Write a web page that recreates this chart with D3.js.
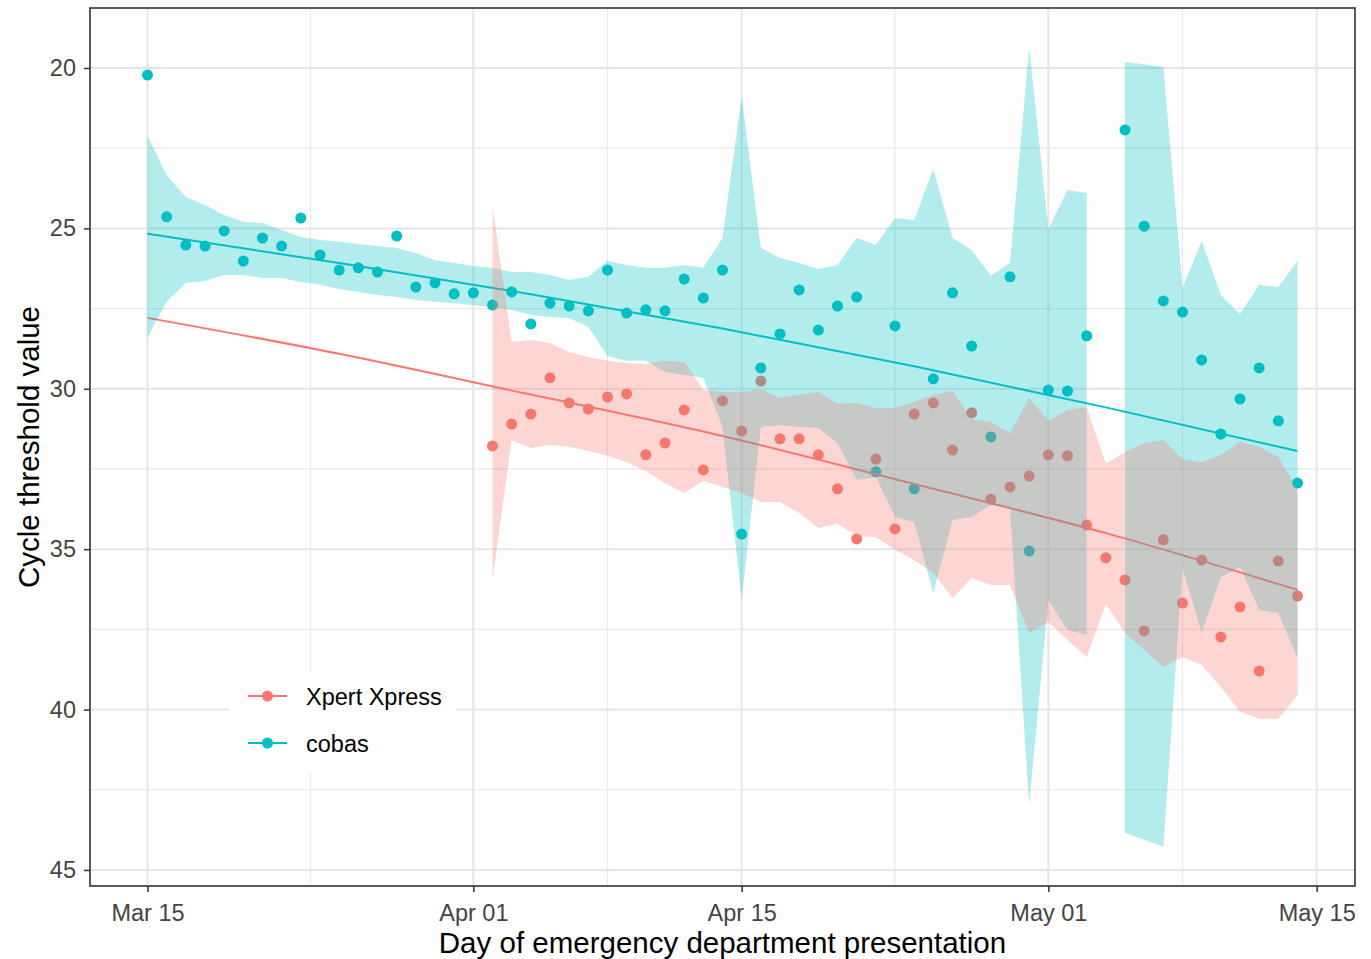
<!DOCTYPE html>
<html>
<head>
<meta charset="utf-8">
<script src="https://cdnjs.cloudflare.com/ajax/libs/d3/7.8.5/d3.min.js"></script>
<style>
  body { margin: 0; background: #fff; }
  svg { display: block; font-family: "Liberation Sans", Arial, Helvetica, sans-serif; }
</style>
</head>
<body>
<svg id="chart" width="1371" height="959"></svg>
<script>

// day 0 = first day of the series, arrays are one value per day
var firstDay = "2020-03-15";
var xpertFirstIndex = 18; // Xpert data starts Apr 02

var cobasCt = [20.22, 24.64, 25.52, 25.55, 25.08, 26.02, 25.30, 25.55, 24.68, 25.83,
               26.30, 26.23, 26.36, 25.24, 26.83, 26.70, 27.04, 27.01, 27.39, 26.98,
               27.98, 27.33, 27.42, 27.57, 26.30, 27.64, 27.54, 27.57, 26.58, 27.17,
               26.30, 34.53, 29.35, 28.29, 26.92, 28.17, 27.42, 27.14, 32.59, 28.04,
               33.12, 29.69, 27.01, 28.67, 31.50, 26.51, 35.06, 30.04, 30.07, 28.35,
               null, 21.93, 24.93, 27.26, 27.61, 29.10, 31.41, 30.32, 29.35, 31.00,
               32.94];
var cobasLow = [22.12, 23.34, 24.02, 24.27, 24.58, 24.80, 24.83, 25.05, 25.27, 25.36,
                25.42, 25.49, 25.55, 25.61, 25.77, 25.99, 26.08, 26.17, 26.23, 26.36,
                26.36, 26.45, 26.61, 26.51, 26.02, 26.14, 26.23, 26.23, 26.14, 26.23,
                25.30, 20.87, 25.61, 25.92, 26.08, 26.27, 26.14, 25.30, 25.52, 24.68,
                24.74, 23.15, 25.30, 25.67, 26.48, 26.08, 19.35, 25.02, 23.80, 23.90,
                null, 19.81, 19.88, 19.97, 26.86, 25.39, 27.08, 27.67, 26.76, 26.83,
                26.02];
var cobasHigh = [28.39, 27.29, 26.70, 26.64, 26.45, 26.45, 26.55, 26.55, 26.67, 26.76,
                 26.89, 26.98, 27.08, 27.14, 27.23, 27.29, 27.33, 27.39, 27.45, 27.54,
                 27.70, 27.76, 27.79, 28.07, 28.98, 29.13, 29.13, 29.48, 29.57, 29.66,
                 31.19, 36.58, 31.19, 31.13, 31.19, 31.22, 31.69, 32.84, 32.75, 34.00,
                 34.15, 36.37, 34.09, 34.00, 33.62, 33.72, 42.97, 36.58, 37.52, 37.67,
                 null, 43.85, 44.06, 44.28, 35.59, 37.61, 35.87, 35.55, 36.90, 36.99,
                 38.39];

var xpertCt = [31.78, 31.10, 30.79, 29.66, 30.44, 30.63, 30.26, 30.16, 32.06, 31.69,
               30.66, 32.53, 30.38, 31.32, 29.76, 31.56, 31.56, 32.06, 33.12, 34.68,
               32.19, 34.37, 30.79, 30.44, 31.91, 30.75, 33.44, 33.06, 32.72, 32.06,
               32.09, 34.25, 35.27, 35.96, 37.55, 34.71, 36.68, 35.34, 37.74, 36.80,
               38.80, 35.37, 36.46];
var xpertLow = [24.30, 28.54, 28.48, 28.57, 28.85, 29.01, 29.13, 29.20, 29.23, 29.13,
                29.16, 30.04, 30.10, 30.10, 30.01, 30.29, 30.19, 30.10, 30.47, 30.44,
                30.60, 30.60, 30.41, 30.19, 30.07, 30.94, 31.04, 31.38, 30.29, 31.00,
                30.66, 30.57, 32.34, 31.97, 31.69, 31.60, 32.19, 32.28, 32.06, 31.66,
                31.81, 32.13, 33.15];
var xpertHigh = [35.96, 31.60, 31.85, 31.75, 31.81, 31.94, 32.09, 32.28, 32.56, 32.94,
                 33.25, 32.87, 33.06, 33.25, 33.53, 33.53, 33.87, 34.34, 34.21, 34.59,
                 34.62, 35.02, 35.34, 35.74, 36.52, 35.90, 36.12, 36.12, 37.61, 37.27,
                 37.83, 38.36, 36.71, 37.61, 38.14, 38.67, 38.36, 38.61, 39.30, 40.07,
                 40.29, 40.29, 39.55];

// fitted trend, read at every 10th day
var fitDays = [0, 10, 20, 30, 40, 50, 60];
var cobasFit = [25.17, 26.08, 27.05, 28.12, 29.30, 30.58, 31.94];
var xpertFit = [27.79, 28.91, 30.18, 31.47, 32.97, 34.50, 36.27];

var xTickDates = ["2020-03-15", "2020-04-01", "2020-04-15", "2020-05-01", "2020-05-15"];
var xTickLabels = ["Mar 15", "Apr 01", "Apr 15", "May 01", "May 15"];
var yTicks = [20, 25, 30, 35, 40, 45];
var legendNames = ["Xpert Xpress", "cobas"];

var red = "#F8766D";
var teal = "#00BFC4";

var panelL = 90, panelR = 1355, panelT = 8, panelB = 886;
var parse = d3.utcParse("%Y-%m-%d");
var day0 = parse(firstDay);

function dayDate(i){ return d3.utcDay.offset(day0, i); }

var x = d3.scaleUtc()
  .domain([dayDate(-3), dayDate(63)])
  .range([panelL, panelR]);

var y = d3.scaleLinear()
  .domain([18.13, 45.5])
  .range([panelT, panelB]);

var svg = d3.select("#chart");

function toRows(ct, lo, hi, offset){
  var rows = [];
  for(var i = 0; i < ct.length; i++){
    rows.push({ date: dayDate(i + offset), ct: ct[i], lo: lo[i], hi: hi[i] });
  }
  return rows;
}

function fitRows(vals){
  return fitDays.map(function(d, i){ return { date: dayDate(d), v: vals[i] }; });
}

var cobasRows = toRows(cobasCt, cobasLow, cobasHigh, 0);
var xpertRows = toRows(xpertCt, xpertLow, xpertHigh, xpertFirstIndex);

// grid
var majorX = xTickDates.map(parse);
var minorX = [];
for(var i = 1; i < majorX.length; i++){
  minorX.push(new Date((majorX[i-1].getTime() + majorX[i].getTime()) / 2));
}
var minorY = [];
for(var j = 1; j < yTicks.length; j++){
  minorY.push((yTicks[j-1] + yTicks[j]) / 2);
}

var grid = svg.append("g").attr("class", "grid");
grid.selectAll(".minx").data(minorX).enter().append("line")
  .attr("x1", function(d){ return x(d); }).attr("x2", function(d){ return x(d); })
  .attr("y1", panelT).attr("y2", panelB)
  .attr("stroke", "#e9e9e9").attr("stroke-width", 1.2);
grid.selectAll(".miny").data(minorY).enter().append("line")
  .attr("y1", function(d){ return y(d); }).attr("y2", function(d){ return y(d); })
  .attr("x1", panelL).attr("x2", panelR)
  .attr("stroke", "#e9e9e9").attr("stroke-width", 1.2);
grid.selectAll(".majx").data(majorX).enter().append("line")
  .attr("x1", function(d){ return x(d); }).attr("x2", function(d){ return x(d); })
  .attr("y1", panelT).attr("y2", panelB)
  .attr("stroke", "#e5e5e5").attr("stroke-width", 2);
grid.selectAll(".majy").data(yTicks).enter().append("line")
  .attr("y1", function(d){ return y(d); }).attr("y2", function(d){ return y(d); })
  .attr("x1", panelL).attr("x2", panelR)
  .attr("stroke", "#e5e5e5").attr("stroke-width", 2);

// points and fitted lines (ribbons go on top, like the original)
function drawPoints(rows, color){
  svg.append("g").selectAll("circle")
    .data(rows.filter(function(r){ return r.ct != null; }))
    .enter().append("circle")
    .attr("cx", function(r){ return x(r.date); })
    .attr("cy", function(r){ return y(r.ct); })
    .attr("r", 5.5)
    .attr("fill", color);
}

var fitLine = d3.line()
  .x(function(d){ return x(d.date); })
  .y(function(d){ return y(d.v); })
  .curve(d3.curveNatural);

function drawFit(vals, color){
  svg.append("path")
    .datum(fitRows(vals))
    .attr("d", fitLine)
    .attr("fill", "none")
    .attr("stroke", color)
    .attr("stroke-width", 2);
}

drawPoints(cobasRows, teal);
drawPoints(xpertRows, red);
drawFit(cobasFit, teal);
drawFit(xpertFit, red);

var band = d3.area()
  .defined(function(r){ return r.lo != null && r.hi != null; })
  .x(function(r){ return x(r.date); })
  .y0(function(r){ return y(r.hi); })
  .y1(function(r){ return y(r.lo); });

svg.append("path").datum(cobasRows).attr("d", band)
  .attr("fill", teal).attr("fill-opacity", 0.3);
svg.append("path").datum(xpertRows).attr("d", band)
  .attr("fill", red).attr("fill-opacity", 0.3);

// panel border
svg.append("rect")
  .attr("x", panelL).attr("y", panelT)
  .attr("width", panelR - panelL).attr("height", panelB - panelT)
  .attr("fill", "none").attr("stroke", "#333").attr("stroke-width", 1.6);

// axes
var yAxis = d3.axisLeft(y).tickValues(yTicks).tickSize(6).tickSizeOuter(0).tickPadding(8);
var gy = svg.append("g").attr("transform", "translate(" + panelL + ",0)").call(yAxis);

var xAxis = d3.axisBottom(x).tickValues(majorX)
  .tickFormat(function(d, i){ return xTickLabels[i]; })
  .tickSize(6).tickSizeOuter(0).tickPadding(12);
var gx = svg.append("g").attr("transform", "translate(0," + panelB + ")").call(xAxis);

[gx, gy].forEach(function(g){
  g.select(".domain").remove();
  g.selectAll(".tick line").attr("stroke", "#333").attr("stroke-width", 1.5);
  g.selectAll(".tick text")
    .attr("fill", "#444")
    .style("font-size", "23.5px")
    .style("font-family", "'Liberation Sans', Arial, sans-serif");
});

svg.append("text")
  .attr("x", (panelL + panelR) / 2).attr("y", 953)
  .attr("text-anchor", "middle")
  .style("font-size", "29.5px")
  .text("Day of emergency department presentation");

svg.append("text")
  .attr("transform", "translate(39," + ((panelT + panelB) / 2) + ") rotate(-90)")
  .attr("text-anchor", "middle")
  .style("font-size", "29.5px")
  .text("Cycle threshold value");

// legend
var legend = svg.append("g").attr("class", "legend");
legend.append("rect")
  .attr("x", 229).attr("y", 670).attr("width", 227).attr("height", 102)
  .attr("fill", "#fff");

var legendColors = [red, teal];
legendNames.forEach(function(name, i){
  var ly = 696 + i * 47;
  legend.append("line")
    .attr("x1", 248).attr("x2", 287).attr("y1", ly).attr("y2", ly)
    .attr("stroke", legendColors[i]).attr("stroke-width", 2);
  legend.append("circle")
    .attr("cx", 267.5).attr("cy", ly).attr("r", 5.5)
    .attr("fill", legendColors[i]);
  legend.append("text")
    .attr("x", 306).attr("y", ly + 9)
    .style("font-size", "23.5px")
    .text(name);
});

</script>
</body>
</html>
